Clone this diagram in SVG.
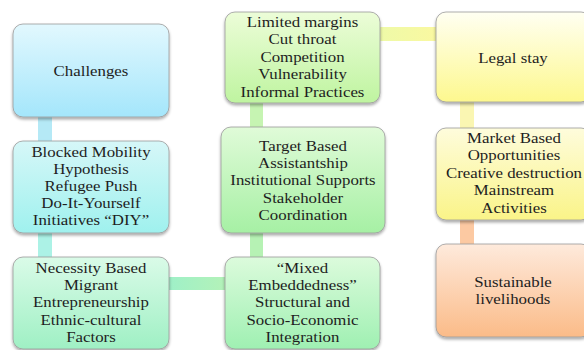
<svg xmlns="http://www.w3.org/2000/svg" width="584" height="350" viewBox="0 0 584 350">
<defs>
<linearGradient id="gBlue" x1="0" y1="0" x2="0" y2="1"><stop offset="0" stop-color="#e2f8fe"/><stop offset="1" stop-color="#a4e6fb"/></linearGradient>
<linearGradient id="gCyan" x1="0" y1="0" x2="0" y2="1"><stop offset="0" stop-color="#d6f7f8"/><stop offset="1" stop-color="#9ff1ee"/></linearGradient>
<linearGradient id="gSea" x1="0" y1="0" x2="0" y2="1"><stop offset="0" stop-color="#dafbe8"/><stop offset="1" stop-color="#9ff0c4"/></linearGradient>
<linearGradient id="gLime" x1="0" y1="0" x2="0" y2="1"><stop offset="0" stop-color="#ecfdd8"/><stop offset="1" stop-color="#bff4a0"/></linearGradient>
<linearGradient id="gGreen" x1="0" y1="0" x2="0" y2="1"><stop offset="0" stop-color="#e0fbd8"/><stop offset="1" stop-color="#a6f0a4"/></linearGradient>
<linearGradient id="gMint" x1="0" y1="0" x2="0" y2="1"><stop offset="0" stop-color="#dcfbdc"/><stop offset="1" stop-color="#9ff0b2"/></linearGradient>
<linearGradient id="gYellow" x1="0" y1="0" x2="0" y2="1"><stop offset="0" stop-color="#fffff2"/><stop offset="1" stop-color="#fdf88e"/></linearGradient>
<linearGradient id="gYellow2" x1="0" y1="0" x2="0" y2="1"><stop offset="0" stop-color="#fefcdc"/><stop offset="1" stop-color="#faf488"/></linearGradient>
<linearGradient id="gOrange" x1="0" y1="0" x2="0" y2="1"><stop offset="0" stop-color="#feeadc"/><stop offset="1" stop-color="#fbbb88"/></linearGradient>
<linearGradient id="cH" x1="0" y1="0" x2="1" y2="0"><stop offset="0" stop-color="#9ef0c8"/><stop offset="1" stop-color="#b4f2b8"/></linearGradient>
<linearGradient id="cY" x1="0" y1="0" x2="1" y2="0"><stop offset="0" stop-color="#eefaa8"/><stop offset="1" stop-color="#faf8a0"/></linearGradient>
<filter id="sh" x="-10%" y="-10%" width="120%" height="130%">
<feGaussianBlur in="SourceAlpha" stdDeviation="1.5"/>
<feOffset dx="0" dy="2" result="b"/>
<feComponentTransfer><feFuncA type="linear" slope="0.35"/></feComponentTransfer>
<feMerge><feMergeNode/><feMergeNode in="SourceGraphic"/></feMerge>
</filter>
</defs>
<style>
.box{stroke:#9a9a9a;stroke-width:0.8;filter:url(#sh)}
.t{font-family:'Liberation Serif','DejaVu Serif','Noto Serif',serif;font-size:15.3px;fill:#1e1e1e;text-anchor:middle}
</style>
<g id="connectors">
<rect x="38" y="115" width="14" height="28" fill="#b5e9f6"/>
<rect x="38" y="231" width="14" height="28" fill="#acf2e6"/>
<rect x="167" y="277" width="60" height="13" fill="url(#cH)"/>
<rect x="250" y="231" width="13" height="28" fill="#b6f2b4"/>
<rect x="250" y="101" width="13" height="28" fill="#c6f4b2"/>
<rect x="378" y="27" width="60" height="14" fill="url(#cY)"/>
<rect x="460" y="100" width="14" height="30" fill="#faf6b2"/>
<rect x="460" y="218" width="14" height="28" fill="#fcc9a2"/>
</g>
<g id="challenges" class="t">
<rect class="box" x="13" y="24" width="156" height="93" rx="10" fill="url(#gBlue)"/>
<g transform="matrix(1.1,0,0,1,-9.1,0)"><text x="91" y="76">Challenges</text></g>
</g>
<g id="blocked-mobility" class="t">
<rect class="box" x="13" y="141" width="156" height="92" rx="10" fill="url(#gCyan)"/>
<g transform="matrix(1.1,0,0,1,-9.1,0)">
<text x="91" y="157">Blocked Mobility</text>
<text x="91" y="174">Hypothesis</text>
<text x="91" y="191">Refugee Push</text>
<text x="91" y="208">Do-It-Yourself</text>
<text x="91" y="225">Initiatives “DIY”</text>
</g>
</g>
<g id="necessity-based" class="t">
<rect class="box" x="13" y="257" width="156" height="92" rx="10" fill="url(#gSea)"/>
<g transform="matrix(1.1,0,0,1,-9.1,0)">
<text x="91" y="273">Necessity Based</text>
<text x="91" y="290">Migrant</text>
<text x="91" y="307.5">Entrepreneurship</text>
<text x="91" y="325">Ethnic-cultural</text>
<text x="91" y="342.5">Factors</text>
</g>
</g>
<g id="limited-margins" class="t">
<rect class="box" x="225" y="12" width="155" height="91" rx="10" fill="url(#gLime)"/>
<g transform="matrix(1.1,0,0,1,-30.25,0)">
<text x="302.5" y="27">Limited margins</text>
<text x="302.5" y="44.5">Cut throat</text>
<text x="302.5" y="62">Competition</text>
<text x="302.5" y="79.5">Vulnerability</text>
<text x="302.5" y="97">Informal Practices</text>
</g>
</g>
<g id="target-based" class="t">
<rect class="box" x="221" y="127" width="164" height="106" rx="10" fill="url(#gGreen)"/>
<g transform="matrix(1.1,0,0,1,-30.3,0)">
<text x="303" y="151">Target Based</text>
<text x="303" y="168">Assistantship</text>
<text x="303" y="185.5">Institutional Supports</text>
<text x="303" y="203">Stakeholder</text>
<text x="303" y="220.5">Coordination</text>
</g>
</g>
<g id="mixed-embeddedness" class="t">
<rect class="box" x="225" y="257" width="155" height="92" rx="10" fill="url(#gMint)"/>
<g transform="matrix(1.1,0,0,1,-30.25,0)">
<text x="302.5" y="273">“Mixed</text>
<text x="302.5" y="290">Embeddedness”</text>
<text x="302.5" y="307.5">Structural and</text>
<text x="302.5" y="325">Socio-Economic</text>
<text x="302.5" y="342.5">Integration</text>
</g>
</g>
<g id="legal-stay" class="t">
<rect class="box" x="436" y="12" width="155" height="90" rx="10" fill="url(#gYellow)"/>
<g transform="matrix(1.1,0,0,1,-51.3,0)"><text x="513" y="63">Legal stay</text></g>
</g>
<g id="market-based" class="t">
<rect class="box" x="436" y="128" width="155" height="92" rx="10" fill="url(#gYellow2)"/>
<g transform="matrix(1.1,0,0,1,-51.4,0)">
<text x="514" y="143">Market Based</text>
<text x="514" y="160.5">Opportunities</text>
<text x="514" y="178">Creative destruction</text>
<text x="514" y="195.5">Mainstream</text>
<text x="514" y="213">Activities</text>
</g>
</g>
<g id="sustainable-livelihoods" class="t">
<rect class="box" x="436" y="244" width="155" height="93" rx="10" fill="url(#gOrange)"/>
<g transform="matrix(1.1,0,0,1,-51.3,0)">
<text x="513" y="287">Sustainable</text>
<text x="513" y="304">livelihoods</text>
</g>
</g>
</svg>
